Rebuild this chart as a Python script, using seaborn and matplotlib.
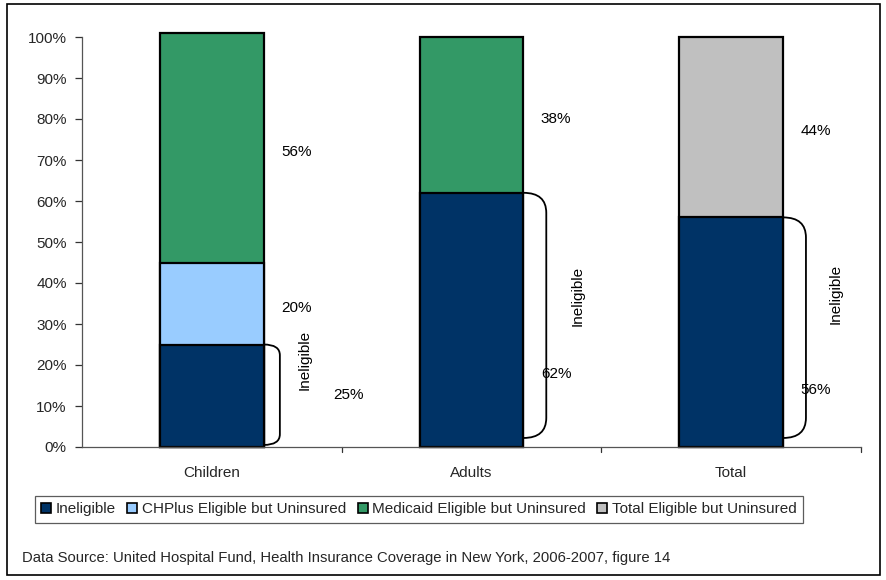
import numpy as np
import pandas as pd
import matplotlib
matplotlib.use("Agg")
import matplotlib.pyplot as plt
from matplotlib.patches import Patch, Rectangle, PathPatch
from matplotlib.path import Path
import seaborn as sns

# ---- data ----
categories = ["Children", "Adults", "Total"]
segments = ["Ineligible", "CHPlus Eligible but Uninsured",
            "Medicaid Eligible but Uninsured", "Total Eligible but Uninsured"]
ineligible = [25, 62, 56]
chplus = [20, 0, 0]
medicaid = [56, 38, 0]
total_eligible = [0, 0, 44]
yticks = [0, 10, 20, 30, 40, 50, 60, 70, 80, 90, 100]

colors = {
    "Ineligible": "#003366",
    "CHPlus Eligible but Uninsured": "#99CCFF",
    "Medicaid Eligible but Uninsured": "#339966",
    "Total Eligible but Uninsured": "#C0C0C0",
}

sns.set_theme(style="white")
plt.rcParams["font.family"] = ["Liberation Sans", "DejaVu Sans"]
FS = 11

values = np.array([ineligible, chplus, medicaid, total_eligible], dtype=float)
tops = values.cumsum(axis=0)
rows = []
for i, seg in enumerate(segments):
    for j, cat in enumerate(categories):
        rows.append({"category": cat, "segment": seg,
                     "value": values[i, j], "top": tops[i, j]})
df = pd.DataFrame(rows)

fig = plt.figure(figsize=(8.87, 5.8), dpi=100)
ax = fig.add_axes([82 / 887, 1 - 447 / 580, (861 - 82) / 887, (447 - 37) / 580])

# stacked bars: draw cumulative tops from the highest layer down
for seg in reversed(segments):
    sub = df[(df["segment"] == seg) & (df["value"] > 0)]
    sns.barplot(data=sub, x="category", y="top", order=categories,
                color=colors[seg], saturation=1, width=0.4,
                edgecolor="black", linewidth=1.6, ax=ax)
for p in ax.patches:
    p.set_clip_on(False)

ax.set_xlim(-0.5, 2.5)
ax.set_ylim(0, 100)
ax.set_yticks(yticks)
ax.set_yticklabels([f"{t}%" for t in yticks])
ax.set_xlabel("")
ax.set_ylabel("")
for s in ["top", "right"]:
    ax.spines[s].set_visible(False)
ax.spines["left"].set_color("#555555")
ax.spines["bottom"].set_color("#555555")
ax.spines["left"].set_linewidth(0.9)
ax.spines["bottom"].set_linewidth(0.9)
ax.tick_params(axis="y", left=True, length=5, width=0.9, color="#333333",
               labelsize=FS, pad=6)
ax.tick_params(axis="x", bottom=False, labelsize=FS, pad=8)
# tick marks between categories on the x axis
for xb in [0.5, 1.5, 2.5]:
    ax.plot([xb, xb], [0, -1.3], color="#333333", lw=0.9, clip_on=False)

# value labels
lab_kw = dict(fontsize=FS, ha="center", va="center", color="black")
for j, cat in enumerate(categories):
    # upper segments
    for i in range(1, len(segments)):
        v = values[i, j]
        if v > 0:
            mid = tops[i, j] - v / 2
            ax.text(j + 0.325, mid - 1.0, f"{int(v)}%", **lab_kw)

# ineligible labels, bracket and rotated caption
inel_label_y = [12.7, 17.8, 13.9]
inel_label_x = [0.527, 0.327, 0.327]
bracket_dx = [0.062, 0.088, 0.088]
bracket_bottom = [0.5, 2.2, 2.2]
bracket_ry = [2.6, 4.9, 4.9]
caption_x = [0.358, 0.41, 0.404]
caption_y = [21.2, 36.8, 37.3]
for j in range(len(categories)):
    v = values[0, j]
    ax.text(j + inel_label_x[j], inel_label_y[j], f"{int(v)}%", **lab_kw)
    x0 = j + 0.2
    x1 = x0 + bracket_dx[j]
    top, bot, ry = v, bracket_bottom[j], bracket_ry[j]
    verts = [(x0, top), (x1, top), (x1, top - ry), (x1, bot + ry),
             (x1, bot), (x0, bot)]
    codes = [Path.MOVETO, Path.CURVE3, Path.CURVE3, Path.LINETO,
             Path.CURVE3, Path.CURVE3]
    ax.add_patch(PathPatch(Path(verts, codes), fill=False, edgecolor="black",
                           lw=1.3, clip_on=False))
    ax.text(j + caption_x[j], caption_y[j], "Ineligible", rotation=90,
            **lab_kw)

# legend
handles = [Patch(facecolor=colors[s], edgecolor="black", lw=1.2) for s in segments]
leg = fig.legend(handles, segments, loc="center", ncol=4,
                 bbox_to_anchor=(419 / 887, 1 - 509.5 / 580),
                 frameon=True, fancybox=False, fontsize=FS,
                 handlelength=0.65, handleheight=0.65, handletextpad=0.3,
                 columnspacing=0.75, borderpad=0.4, borderaxespad=0)
leg.get_frame().set_edgecolor("#333333")
leg.get_frame().set_linewidth(0.9)

fig.text(22 / 887, 1 - 558 / 580,
         "Data Source: United Hospital Fund, Health Insurance Coverage in New York, 2006-2007, figure 14",
         fontsize=10.7, ha="left", va="center")

# outer frame
fig.patches.append(Rectangle((7 / 887, 1 - 575 / 580), 873 / 887, 571 / 580,
                             transform=fig.transFigure, fill=False,
                             edgecolor="black", lw=1.2))

fig.savefig("out.png", dpi=100)
